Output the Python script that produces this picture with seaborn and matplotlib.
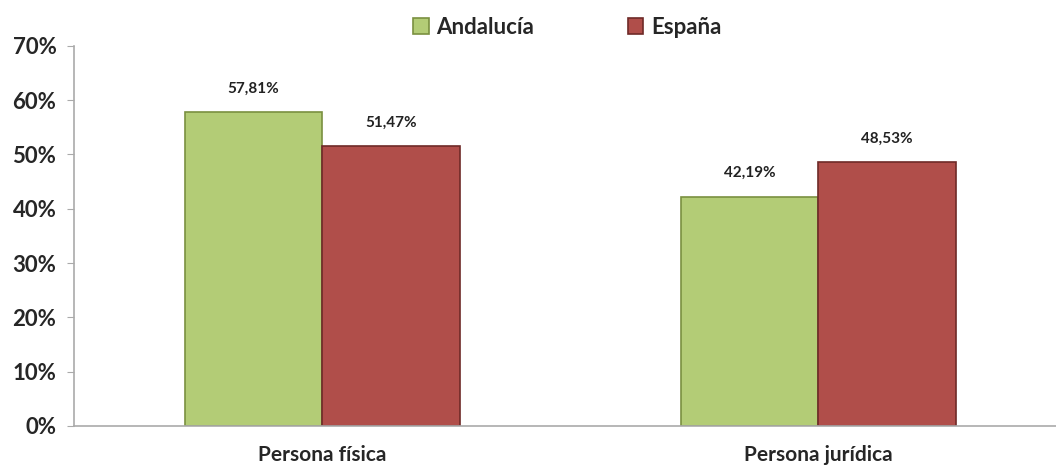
import pandas as pd
import matplotlib.pyplot as plt
import seaborn as sns

# Data
categorias = ["Persona física", "Persona jurídica"]
andalucia = [57.81, 42.19]
espana = [51.47, 48.53]
series = ["Andalucía", "España"]

data = pd.DataFrame({
    "Categoria": categorias * 2,
    "Serie": [series[0]] * 2 + [series[1]] * 2,
    "Valor": andalucia + espana,
})

sns.set_style("white")
plt.rcParams['font.family'] = ['Lato', 'DejaVu Sans']
plt.rcParams['font.weight'] = 'bold'

fig = plt.figure(figsize=(10.56, 4.68), dpi=100)
ax = fig.add_axes([0.0705, 0.09, 0.939, 0.812])

colores = {"Andalucía": "#b3cc76", "España": "#b04e4a"}
sns.barplot(data=data, x="Categoria", y="Valor", hue="Serie", palette=colores,
            width=0.555, saturation=1, ax=ax, linewidth=1.2)

# Darker edges per series + value labels
for cont, edge in zip(ax.containers, ["#7a9040", "#6e2a28"]):
    for bar in cont:
        bar.set_edgecolor(edge)
    ax.bar_label(cont, labels=[f"{v:.2f}%".replace(".", ",") for v in cont.datavalues],
                 padding=12, fontsize=11, fontweight='bold', color="#222222")

ax.set_ylim(0, 70)
ax.set_yticks(range(0, 71, 10))
ax.set_yticklabels([f"{v}%" for v in range(0, 71, 10)], fontsize=16, fontweight='bold')
ax.set_xlim(-0.5, 1.5)
ax.set_xticks([0, 1])
ax.set_xticklabels(categorias, fontsize=15, fontweight='bold')
ax.tick_params(axis='x', length=0, pad=14)
ax.set_xticks([0.5], minor=True)
ax.tick_params(axis='x', which='minor', length=6, color="#aaaaaa", direction='out')
ax.tick_params(axis='y', length=5, color="#aaaaaa", direction='out', left=True, pad=8)
ax.set_xlabel("")
ax.set_ylabel("")

for s in ["top", "right"]:
    ax.spines[s].set_visible(False)
for s in ["left", "bottom"]:
    ax.spines[s].set_color("#aaaaaa")
    ax.spines[s].set_linewidth(1.2)

leg = ax.legend(loc="lower center", bbox_to_anchor=(0.497, 0.968), ncol=2, frameon=False,
                handlelength=0.7, handleheight=0.7, handletextpad=0.35, columnspacing=4.2,
                prop={'size': 16, 'weight': 'bold'})
for h, edge in zip(leg.legend_handles, ["#7a9040", "#6e2a28"]):
    h.set_edgecolor(edge)

fig.savefig("out.png", dpi=100)
